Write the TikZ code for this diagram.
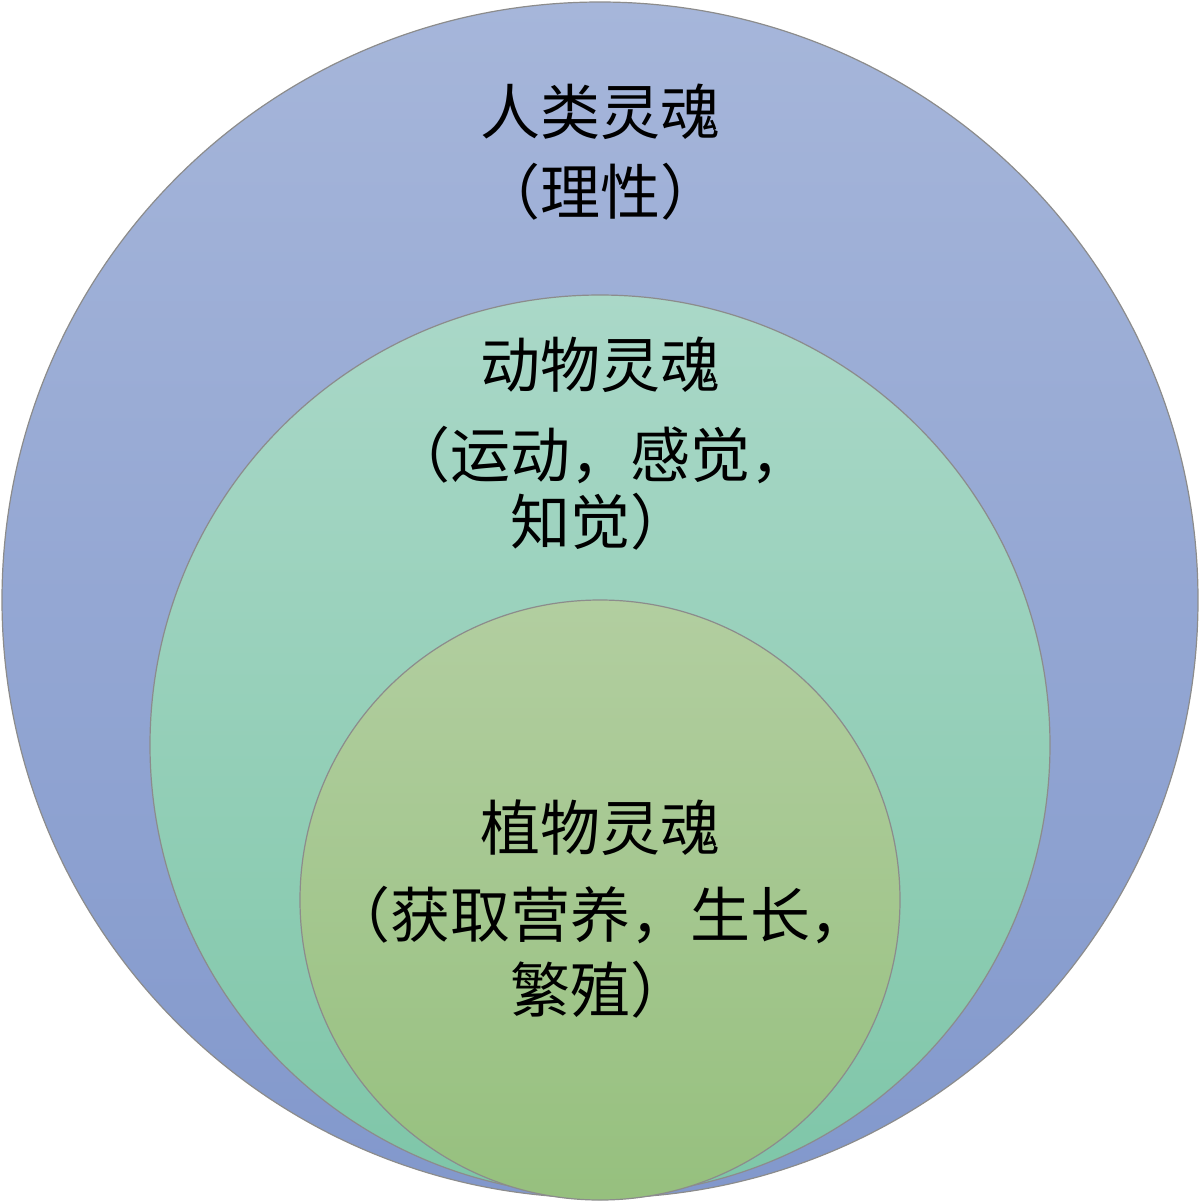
\documentclass[tikz,border=0pt]{standalone}
\usepackage{fontspec}
\newfontfamily\cjk{Noto Sans CJK SC}
\begin{document}
\begin{tikzpicture}[x=0.5pt,y=-0.5pt,
  ring/.style={draw=black!45,line width=0.6pt},
  lbl/.style={font=\cjk\fontsize{30}{36}\selectfont,inner sep=0pt,anchor=center}]
\useasboundingbox (0,0) rectangle (1200,1201);
\shade[ring,top color={rgb,255:red,166;green,182;blue,218},bottom color={rgb,255:red,130;green,152;blue,204}] (600,600) circle[radius=598];
\shade[ring,top color={rgb,255:red,170;green,216;blue,200},bottom color={rgb,255:red,126;green,198;blue,168}] (600,745) circle[radius=450];
\shade[ring,top color={rgb,255:red,178;green,206;blue,160},bottom color={rgb,255:red,150;green,192;blue,126}] (600,900) circle[radius=300];
\node[lbl] (a1) at (600,112) {人类灵魂};
\node[lbl] (a2) at (600,192) {（理性）};
\node[lbl] (b1) at (600,365) {动物灵魂};
\node[lbl] (b2) at (600,455) {（运动，感觉，};
\node[lbl] (b3) at (600,522) {知觉）};
\node[lbl] (c1) at (600,828) {植物灵魂};
\node[lbl] (c2) at (600,915) {（获取营养，生长，};
\node[lbl] (c3) at (600,990) {繁殖）};
\end{tikzpicture}
\end{document}
